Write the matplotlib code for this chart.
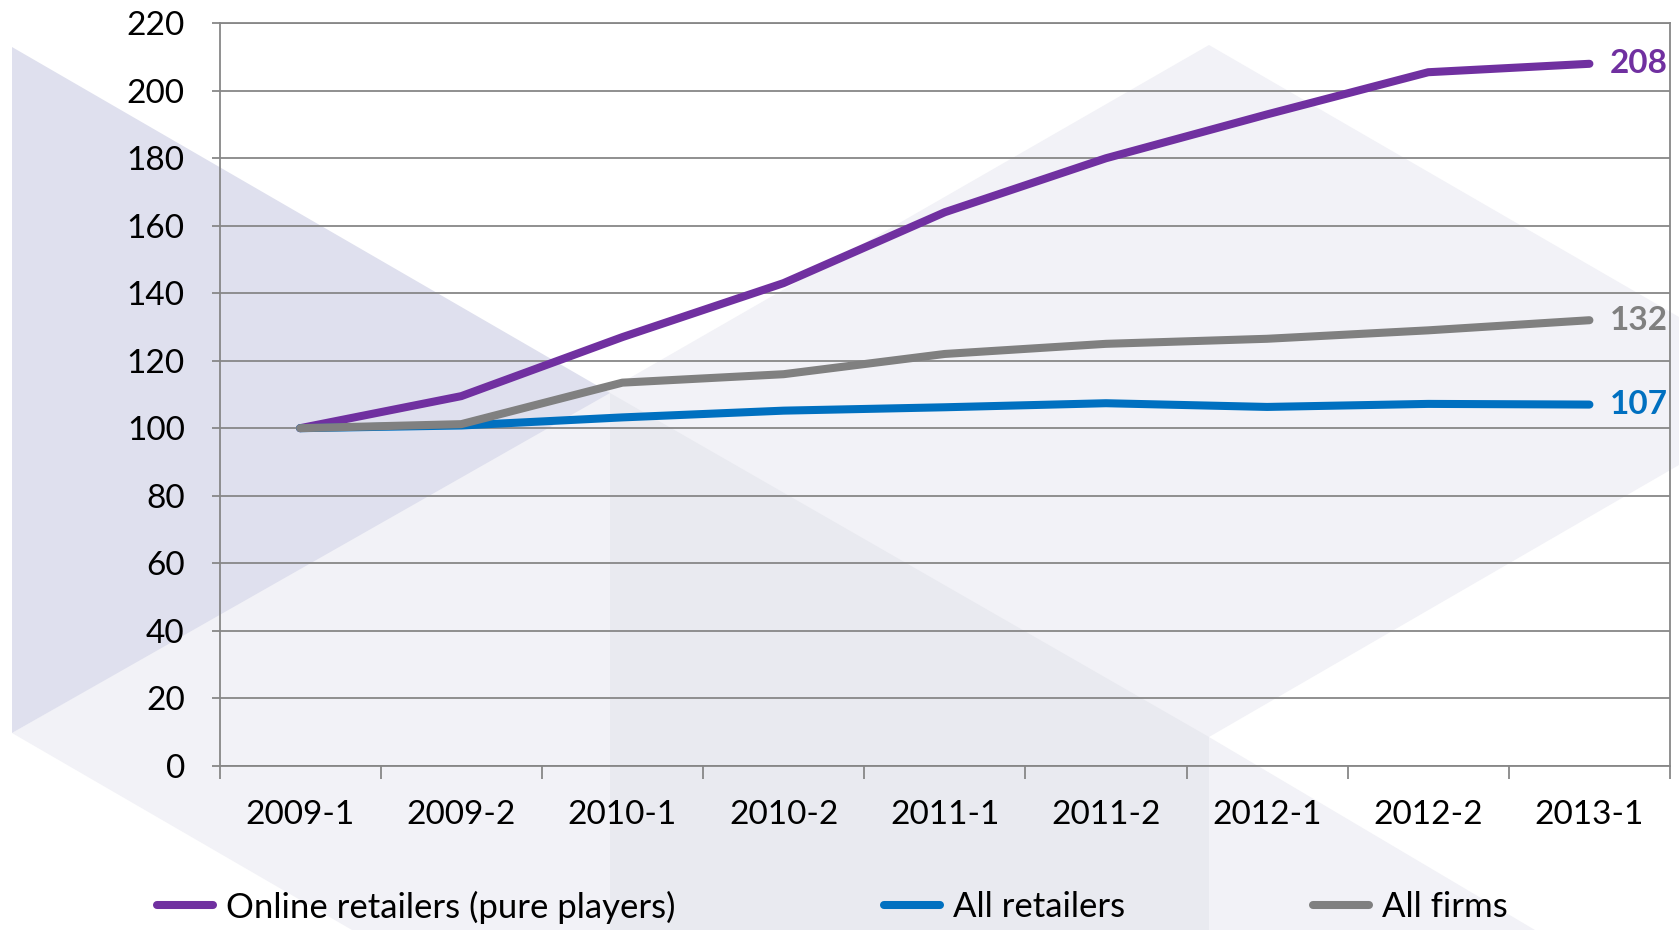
import matplotlib
matplotlib.use("Agg")
import matplotlib.pyplot as plt
from matplotlib.patches import Polygon
from matplotlib.lines import Line2D

plt.rcParams['font.family'] = ['Lato', 'DejaVu Sans']

# Half-year periods and index values (2009-1 = 100)
periods = ["2009-1", "2009-2", "2010-1", "2010-2", "2011-1",
           "2011-2", "2012-1", "2012-2", "2013-1"]
online_retailers = [100, 109.5, 127, 143, 164, 180, 193, 205.5, 208]
all_retailers = [100, 100.8, 103.2, 105.2, 106.2, 107.4, 106.3, 107.2, 107]
all_firms = [100, 101.2, 113.5, 116, 122, 125, 126.5, 129, 132]

series_names = ["Online retailers (pure players)", "All retailers", "All firms"]
series_values = [online_retailers, all_retailers, all_firms]
series_colors = ["#7030A0", "#0070C0", "#808080"]

W, H = 1679, 930
fig = plt.figure(figsize=(W / 100, H / 100), dpi=100)
fig.patch.set_facecolor("white")


def px(points):
    """Pixel coordinates (origin top-left) to figure fractions."""
    return [(x / W, 1 - y / H) for x, y in points]


# Decorative translucent facets in the background
facets = [
    ([(12, 733), (1209, 45), (1679, 317), (1679, 465), (1209, 737),
      (1535, 930), (352, 930)], "#F2F2F7"),
    ([(610, 393), (1209, 737), (1209, 930), (610, 930)], "#E9EAF0"),
    ([(12, 47), (12, 733), (610, 393)], "#DFE0EE"),
]
for pts, col in facets:
    fig.add_artist(Polygon(px(pts), closed=True, facecolor=col,
                           edgecolor="none", transform=fig.transFigure,
                           zorder=0))

left, right, top, bottom = 219.5, 1670, 23.3, 765.6
ax = fig.add_axes([left / W, 1 - bottom / H, (right - left) / W, (bottom - top) / H])
ax.set_facecolor("none")
ax.set_zorder(1)

LW = 5.8
x = list(range(len(periods)))
for name, vals, col in zip(series_names, series_values, series_colors):
    ax.plot(x, vals, color=col, lw=LW, solid_capstyle="round",
            solid_joinstyle="round", label=name, zorder=3)
    ax.annotate(f"{vals[-1]:.0f}", xy=(x[-1], vals[-1]), xytext=(15, 0),
                textcoords="offset points", ha="left", va="center",
                color=col, fontsize=24, fontweight="bold",
                annotation_clip=False)

grid_col = "#878787"
ax.set_ylim(0, 220)
ax.set_yticks(range(0, 221, 20))
ax.set_xlim(-0.5, len(periods) - 0.5)
ax.set_xticks(x)
ax.set_xticklabels(periods)
ax.set_xticks([i - 0.5 for i in range(len(periods) + 1)], minor=True)

ax.yaxis.grid(True, color=grid_col, lw=1.3)
ax.set_axisbelow(True)
for s in ax.spines.values():
    s.set_color(grid_col)
    s.set_linewidth(1.3)

ax.tick_params(axis="y", length=6, width=1.3, color=grid_col, pad=19,
               labelsize=24, labelcolor="black")
ax.tick_params(axis="x", which="major", length=0, pad=25, labelsize=24,
               labelcolor="black")
ax.tick_params(axis="x", which="minor", length=9, width=1.3, color=grid_col)

# Legend entries along the bottom edge
legend_x = [157, 884, 1313]
legend_y = 1 - 907 / H
for xpos, name, col in zip(legend_x, series_names, series_colors):
    h = Line2D([], [], color=col, lw=LW, solid_capstyle="round")
    fig.legend(handles=[h], labels=[name], loc="center left",
               bbox_to_anchor=(xpos / W, legend_y), frameon=False,
               borderpad=0, borderaxespad=0, handlelength=1.6,
               handletextpad=0.4, fontsize=25)

fig.savefig("out.png", dpi=100, facecolor="white")
